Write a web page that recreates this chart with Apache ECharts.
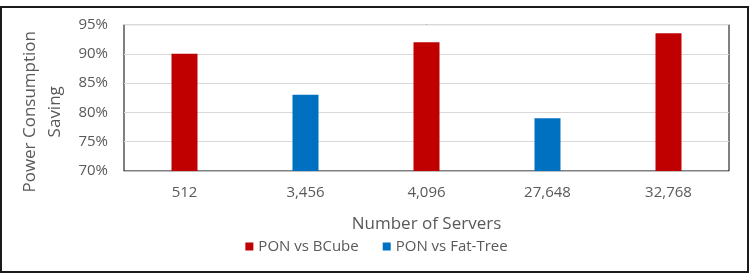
<!DOCTYPE html>
<html>
<head>
<meta charset="utf-8">
<script src="https://cdn.jsdelivr.net/npm/echarts@6/dist/echarts.min.js"></script>
<style>
  html, body { margin: 0; padding: 0; background: #fff; }
  #chart { width: 753px; height: 278px; }
</style>
</head>
<body>
<div id="chart"></div>
<script>
var categories = ['512', '3,456', '4,096', '27,648', '32,768'];
var bcube = [90, '-', 92, '-', 93.5];
var fatTree = ['-', 83, '-', 79, '-'];
var yTicks = { min: 70, max: 95, interval: 5 };

var chart = echarts.init(document.getElementById('chart'), null, { renderer: 'canvas' });
var font = '"Open Sans", sans-serif';

var option = {
  backgroundColor: '#ffffff',
  textStyle: { fontFamily: font },
  graphic: [{
    type: 'rect',
    shape: { x: 1, y: 7, width: 747, height: 265 },
    style: { fill: 'none', stroke: '#1a1a1a', lineWidth: 2 },
    silent: true
  }],
  grid: {
    left: 123,
    top: 23,
    right: 24,
    bottom: 107,
    show: true,
    borderColor: '#000000',
    borderWidth: 1
  },
  legend: {
    data: ['PON vs BCube', 'PON vs Fat-Tree'],
    left: 'center',
    top: 234,
    icon: 'rect',
    itemWidth: 8,
    itemHeight: 8,
    itemGap: 24,
    textStyle: { fontFamily: font, fontSize: 15, color: '#595959' }
  },
  xAxis: {
    type: 'category',
    data: categories,
    name: 'Number of Servers',
    nameLocation: 'middle',
    nameGap: 45,
    nameMoveOverlap: false,
    nameTextStyle: { fontFamily: font, fontSize: 17, color: '#595959' },
    axisLine: { show: true, lineStyle: { color: '#bfbfbf' } },
    axisTick: { show: false },
    axisLabel: { margin: 14, fontSize: 15, color: '#595959', fontFamily: font }
  },
  yAxis: {
    type: 'value',
    min: yTicks.min,
    max: yTicks.max,
    interval: yTicks.interval,
    name: 'Power Consumption\nSaving',
    nameLocation: 'middle',
    nameGap: 56,
    nameMoveOverlap: false,
    nameTextStyle: {
      fontFamily: font, fontSize: 17, color: '#595959', lineHeight: 25,
      padding: [10, 28, 0, 0]
    },
    axisLine: { show: false },
    axisTick: { show: false },
    axisLabel: { formatter: '{value}%', margin: 16, fontSize: 15, color: '#595959', fontFamily: font },
    splitLine: { lineStyle: { color: '#d9d9d9' } }
  },
  series: [{
    name: 'PON vs BCube',
    type: 'bar',
    data: bcube,
    barWidth: '21.5%',
    barGap: '-100%',
    itemStyle: { color: '#c00000' }
  }, {
    name: 'PON vs Fat-Tree',
    type: 'bar',
    data: fatTree,
    barWidth: '21.5%',
    itemStyle: { color: '#0070c0' }
  }]
};

chart.setOption(option);
</script>
</body>
</html>
